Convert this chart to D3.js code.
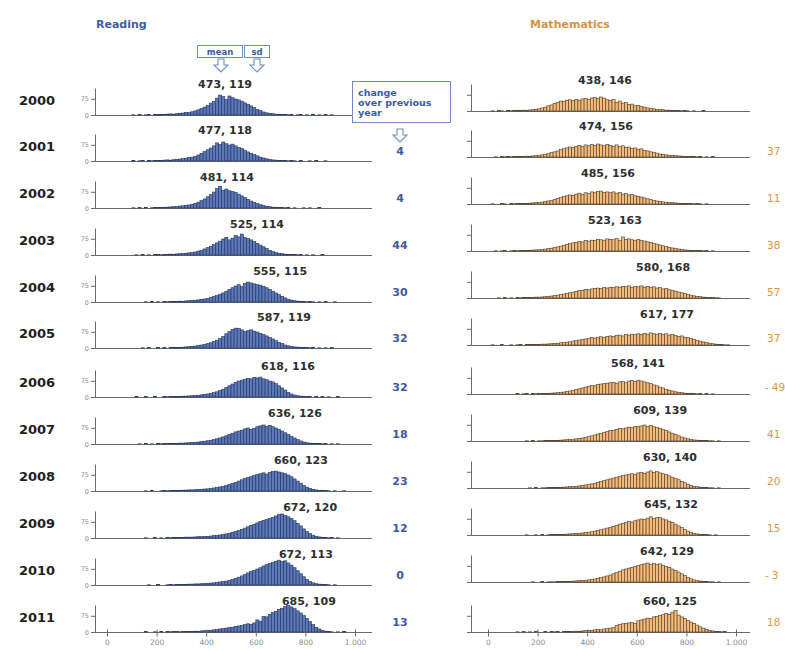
<!DOCTYPE html>
<html><head><meta charset="utf-8">
<script src="https://cdn.jsdelivr.net/npm/d3@7"></script>
<style>
html,body{margin:0;padding:0;background:#fff;}
svg{display:block;font-family:"DejaVu Sans",Verdana,sans-serif;}
</style></head><body>
<svg id="chart" width="785" height="651"></svg>
<script>
// ---- data -------------------------------------------------------------
const years = [2000, 2001, 2002, 2003, 2004, 2005, 2006, 2007, 2008, 2009, 2010, 2011];

const readMean = [473, 477, 481, 525, 555, 587, 618, 636, 660, 672, 672, 685];
const readSd   = [119, 118, 114, 114, 115, 119, 116, 126, 123, 120, 113, 109];
const mathMean = [438, 474, 485, 523, 580, 617, 568, 609, 630, 645, 642, 660];
const mathSd   = [146, 156, 156, 163, 168, 177, 141, 139, 140, 132, 129, 125];

const readChange = [null, 4, 4, 44, 30, 32, 32, 18, 23, 12, 0, 13];
const mathChange = [null, 37, 11, 38, 57, 37, -49, 41, 20, 15, -3, 18];

// score bins of 12.5 points, 0 .. 1000 (counts per bin)
const binWidth = 12.5;

const r2000 = [0,0,0,0,0,0,0,0, 1,0,2,0,1,2,0,2, 2,3,2,4,5,4,6,8, 9,12,11,15,19,24,30,37, 44,55,62,78,92,85,72,88, 80,74,70,64,56,50,42,34, 26,20,14,10,8,6,4,3, 2,2,1,2,0,1,2,0, 1,0,2,0,1,0,2,0, 1,0,0,0,0,0,0,0];
const r2001 = [0,0,0,0,0,0,0,0, 2,0,1,2,0,2,1,2, 3,2,4,5,4,6,8,9, 11,13,16,18,22,28,36,44, 52,60,70,84,76,88,80,74, 78,70,62,58,50,42,36,30, 24,18,14,10,7,5,4,3, 2,2,1,2,1,0,2,0, 0,1,0,2,0,0,1,0, 0,0,0,0,0,0,0,0];
const r2002 = [0,0,0,0,0,0,0,0, 1,0,2,0,2,0,1,2, 2,3,3,4,5,6,7,9, 10,12,14,17,22,27,34,42, 52,62,74,90,100,82,88,80, 76,72,64,56,48,40,32,26, 20,15,11,8,6,4,3,2, 2,1,2,0,1,0,0,1, 0,1,0,0,2,0,0,0, 0,0,0,0,0,0,0,0];
const r2003 = [0,0,0,0,0,0,0,0, 0,1,0,2,0,1,0,2, 2,1,3,2,4,3,5,6, 7,8,10,12,14,18,22,28, 34,40,48,56,64,74,82,70, 78,90,84,97,80,76,70,62, 54,46,38,30,22,16,11,8, 6,4,3,2,2,1,2,0, 1,0,1,0,0,2,0,0, 0,0,0,0,0,0,0,0];
const r2004 = [0,0,0,0,0,0,0,0, 0,0, 0,0,1,0,2,0,1,0, 2,1,2,3,2,4,3,5, 6,7,8,10,12,14,17,21, 26,30,36,42,50,58,66,74, 80,72,86,92,88,84,80,78, 72,66,58,50,42,34,26,19, 13,9,6,4,3,2,1,2, 1,0,1,0,2,0,0,1, 0,0,0,0,0,0];
const r2005 = [0,0,0,0,0,0,0,0, 0,0,0,1,0,2,0,0, 2,0,2,0,2,2,3,3, 4,5,6,8,9,11,14,17, 20,24,30,36,44,54,66,76, 86,92,90,84,76,80,84,78, 74,68,62,56,48,42,34,26, 20,14,10,7,5,4,3,2, 2,1,2,0,1,0,1,0, 2,0,0,0,0,0,0,0];
const r2006 = [0,0,0,0,0,0,0,0, 0,2,0,0,2,0,0,2, 0,0,2,1,2,2,3,3, 4,4,5,6,7,8,10,12, 14,17,20,24,30,36,44,52, 60,68,74,78,82,86,84,90, 88,92,84,80,74,70,62,52, 42,32,22,14,9,6,4,3, 2,2,0,2,0,2,0,1, 0,0,2,0,0,0,0,0];
const r2007 = [0,0,0,0,0,0,0,0, 0,0,1,0,2,0,1,0,2, 1,2,2,3,2,3,4,4, 5,6,7,8,9,11,13,15, 17,20,24,28,33,38,44,50, 56,60,64,70,74,68,72,80, 84,88,82,86,80,74,68,60, 52,44,36,28,20,14,9,6, 4,3,2,2,1,2,0,1, 0,1,0,0,0,0,0];
const r2008 = [0,0,0,0,0,0,0,0, 0,0, 0,0,1,0,2,0,0,1, 2,1,2,2,3,3,4,4, 5,5,6,7,8,9,10,12, 14,16,19,22,26,30,35,40, 46,52,58,62,66,72,76,80, 84,78,86,90,92,88,84,80, 74,66,56,46,36,26,18,12, 8,5,3,2,2,1,0,1, 0,0,1,0,0,0];
const r2009 = [0,0,0,0,0,0,0,0, 0,0,0, 0,1,0,0,2,0,1,0, 2,1,2,2,3,3,4,4, 4,5,6,6,7,8,9,11, 12,14,16,19,22,26,30,35, 40,46,52,58,64,70,76,82, 86,90,96,102,108,111,104,98, 90,80,68,56,42,30,20,13, 8,5,3,2,1,2,0,1, 0,0,0,0,0];
const r2010 = [0,0,0,0,0,0,0,0, 0,0,0, 0,0,1,0,0,2,0,0, 1,2,1,2,2,3,3,4, 4,5,5,6,7,8,9,10, 12,14,16,18,22,26,31,36, 42,48,56,62,68,74,80,88, 94,100,104,110,115,108,112,102, 92,80,66,52,38,26,16,10, 6,4,2,2,1,0,1,0, 0,0,0,0,0];
const r2011 = [0,0,0,0,0,0,0,0, 0,0, 0,0,2,0,0,1,0,2, 0,2,1,2,2,1,2,3, 2,3,4,3,5,6,7,8, 10,12,14,16,18,20,22,26, 28,30,34,38,36,42,56,50, 72,70,82,90,96,104,110,118, 124,116,108,98,88,76,62,48, 34,22,14,8,4,2,1,0, 1,0,2,0,0,0];

const m2000 = [0,1,0,2,1,0,2,1, 2,3,2,4,3,5,6,8, 10,14,18,24,28,34,40,46, 44,50,52,48,54,50,56,58, 54,60,62,58,65,60,52,48, 54,40,46,36,40,30,32,24, 26,20,18,14,12,10,8,6, 6,4,4,3,2,2,1,2, 1,0,1,0,0,2,0,0, 0,0,0,0,0,0,0,0];
const m2001 = [0,0,1,0,2,1,2,1, 2,2,3,2,4,3,5,6, 8,10,12,16,20,24,28,34, 38,42,46,44,50,54,48,56, 52,58,54,60,56,52,58,54, 50,56,48,52,44,46,40,42, 36,38,30,28,24,20,18,14, 12,10,8,7,6,5,4,3, 2,3,2,1,2,0,1,0, 2,0,0,0,0,0,0,0];
const m2002 = [0,1,0,0,2,1,0,2, 1,2,2,3,3,4,5,6, 7,9,11,14,17,21,25,30, 34,38,42,40,46,50,44,52, 48,56,52,58,60,54,56,52, 56,50,54,46,48,42,44,38, 36,32,28,24,20,17,14,12, 10,8,7,6,5,4,3,3, 2,2,1,2,1,0,1,0, 0,0,0,0,0,0,0,0];
const m2003 = [0,0,1,0,1,2,0,1, 2,1,2,2,3,3,4,5, 6,7,9,11,13,16,19,22, 26,30,34,38,40,44,42,48, 46,50,48,54,52,50,56,54, 52,58,50,65,54,56,52,50, 54,48,46,42,40,36,32,28, 24,20,17,14,11,9,7,5, 4,3,3,2,2,1,2,0, 1,0,0,0,0,0,0,0];
const m2004 = [0,0,0,1,0,2,0,1, 0,2,1,2,2,3,3,4, 4,5,6,8,9,11,13,16, 18,21,24,27,30,34,36,40, 38,42,44,46,44,48,46,50, 48,52,50,54,52,56,50,54, 52,56,50,54,48,52,46,48, 42,44,38,36,32,28,24,20, 16,13,10,8,6,4,3,2, 2,1,1,0,0,0,0,0];
const m2005 = [0,1,0,0,2,0,0,1, 0,1,2,0,2,2,3,2, 3,4,4,5,6,7,8,10, 11,13,15,18,20,23,26,28, 30,34,32,36,38,36,40,42, 40,44,46,42,48,46,50,48, 52,48,54,50,56,52,50,54, 48,52,46,50,44,40,42,36, 34,30,26,22,18,14,11,8, 6,4,3,2,1,1,0,0];
const m2006 = [0,0,0,0,0,0,0,0, 0,2,0,1,2,0,2,1, 2,2,3,3,4,5,6,7, 9,11,14,17,20,24,28,32, 36,40,38,44,46,48,50,52, 54,50,56,58,52,60,62,58, 64,60,56,52,48,42,38,32, 28,22,18,14,10,8,6,4, 3,3,2,1,2,0,2,0, 1,0,0,0,0,0,0,0];
const m2007 = [0,0,0,0,0,0,0,0, 0,0,0, 0,1,0,2,0,1,1,2, 2,2,3,3,4,5,6,7, 8,10,12,14,17,20,24,28, 32,36,40,44,48,50,54,58, 56,60,64,62,68,66,70,74, 68,72,66,62,58,54,48,42, 36,30,24,18,14,10,7,5, 4,3,2,2,1,1,0,1, 0,0,0,0,0];
const m2008 = [0,0,0,0,0,0,0,0, 0,0,0, 0,0,1,0,2,0,1,1, 2,2,2,3,3,4,5,6, 7,8,10,12,14,16,19,22, 26,30,34,38,42,46,50,54, 58,60,62,66,64,70,72,68, 74,79,72,76,70,66,62,56, 50,44,38,30,24,18,12,8, 6,4,3,2,1,1,0,1, 0,0,0,0,0];
const m2009 = [0,0,0,0,0,0,0,0, 0,0,0, 0,1,0,0,1,0,2,0, 1,2,2,2,3,3,4,5, 6,7,8,9,11,13,15,18, 21,24,28,32,36,40,45,50, 54,58,62,60,66,70,74,72, 78,84,76,80,82,74,70,64, 58,50,42,34,26,18,12,8, 5,3,2,2,1,0,1,0, 0,0,0,0,0];
const m2010 = [0,0,0,0,0,0,0,0, 0,0,0,0, 0,0,1,0,0,2,0,1, 1,1,2,2,2,3,3,4, 5,6,7,8,10,12,14,17, 20,24,28,32,38,44,50,56, 60,64,68,72,76,80,84,88, 82,86,80,84,78,72,68,60, 54,46,38,30,22,15,10,6, 4,3,2,1,1,0,1,0, 0,0,0,0];
const m2011 = [0,0,0, 0,0,0,0,0,0,1,0, 2,0,1,0,2,0,0,2, 0,2,1,2,0,2,2,3, 3,4,3,5,6,7,8,10, 12,10,14,16,18,20,30,34, 38,40,42,44,40,52,56,60, 64,62,70,72,76,80,86,82, 92,100,78,70,62,54,46,40, 32,24,18,12,8,5,3,2, 1,2,0,0,0];

const readHists = [r2000, r2001, r2002, r2003, r2004, r2005, r2006, r2007, r2008, r2009, r2010, r2011];
const mathHists = [m2000, m2001, m2002, m2003, m2004, m2005, m2006, m2007, m2008, m2009, m2010, m2011];

const xTicks = [0, 200, 400, 600, 800, 1000];
const yTicks = [0, 75];

// label anchors (score units, placed through each column's x scale)
const readLabelAt = [476, 476, 484, 605, 698, 714, 730, 758, 782, 819, 802, 814];
const mathLabelAt = [472, 476, 484, 512, 706, 722, 605, 694, 734, 738, 722, 734];

// ---- layout -----------------------------------------------------------
const rowBase  = [115, 161, 208, 255, 302, 348, 397, 444, 491, 538, 585, 632];
const mathBase = [111, 157, 204, 251, 298, 345, 394, 441, 488, 535, 582, 632];
const panelH = 27;

const cols = [
  { key: "read", title: "Reading", titleX: 96, axisX: 95, x0: 107, x1: 355, lineEnd: 372,
    fill: "#5b79b8", stroke: "#22335f", hists: readHists, mean: readMean, sd: readSd,
    labelAt: readLabelAt, base: rowBase, tickLabels: true, titleColor: "#3d5da6" },
  { key: "math", title: "Mathematics", titleX: 530, axisX: 471, x0: 488, x1: 736, lineEnd: 750,
    fill: "#f6bb78", stroke: "#4d3a28", hists: mathHists, mean: mathMean, sd: mathSd,
    labelAt: mathLabelAt, base: mathBase, tickLabels: false, titleColor: "#d99140" }
];

const svg = d3.select("#chart");
svg.append("rect").attr("width", 785).attr("height", 651).attr("fill", "#ffffff");

const y = d3.scaleLinear().domain([0, 125]).range([0, -panelH]);

cols.forEach(c => {
  const x = d3.scaleLinear().domain([0, 1000]).range([c.x0, c.x1]);

  svg.append("text").attr("x", c.titleX).attr("y", 28)
    .attr("font-size", 11).attr("font-weight", "bold").attr("fill", c.titleColor)
    .text(c.title);

  years.forEach((yr, i) => {
    const g = svg.append("g").attr("transform", `translate(0,${c.base[i]})`);

    // baseline
    g.append("line").attr("x1", c.axisX - 3).attr("x2", c.lineEnd)
      .attr("y1", 0.5).attr("y2", 0.5).attr("stroke", "#6a6a6a").attr("stroke-width", 1);

    // histogram bars
    const bins = c.hists[i].map((v, k) => ({ x0: k * binWidth, v })).filter(d => d.v > 0);
    g.selectAll("rect.bar").data(bins).join("rect")
      .attr("class", "bar")
      .attr("x", d => x(d.x0))
      .attr("width", x(binWidth) - x(0))
      .attr("y", d => y(d.v))
      .attr("height", d => y(0) - y(d.v))
      .attr("fill", c.fill).attr("stroke", c.stroke).attr("stroke-width", 0.6);

    // vertical axis
    const ax = g.append("g").attr("transform", `translate(${c.axisX},0)`)
      .call(d3.axisLeft(y).tickValues(yTicks).tickSize(4).tickSizeOuter(0).tickPadding(2)
        .tickFormat(c.tickLabels ? d3.format("d") : () => ""));
    ax.select(".domain").attr("stroke", "#6a6a6a");
    ax.selectAll(".tick line").attr("stroke", "#6a6a6a");
    ax.selectAll(".tick text").attr("font-size", 6.5).attr("fill", "#8a8a8a")
      .attr("font-family", "DejaVu Sans, sans-serif");

    // mean, sd label
    g.append("text").attr("x", x(c.labelAt[i])).attr("y", -27)
      .attr("text-anchor", "middle").attr("font-size", 11).attr("font-weight", "bold")
      .attr("fill", "#2e2e2e")
      .text(`${c.mean[i]},  ${c.sd[i]}`);

    // bottom score axis on the last row
    if (i === years.length - 1) {
      const bx = g.append("g").attr("transform", "translate(0,0.5)")
        .call(d3.axisBottom(x).tickValues(xTicks).tickSize(4).tickSizeOuter(0).tickPadding(3)
          .tickFormat(d => d === 1000 ? "1.000" : d));
      bx.select(".domain").remove();
      bx.selectAll(".tick line").attr("y1", -3).attr("stroke", "#6a6a6a");
      bx.selectAll(".tick text").attr("font-size", 7.5).attr("fill", "#8a8a8a")
        .attr("font-family", "DejaVu Sans, sans-serif");
    }
  });
});

// year labels
years.forEach((yr, i) => {
  svg.append("text").attr("x", 37).attr("y", rowBase[i] - 10)
    .attr("text-anchor", "middle").attr("font-size", 13).attr("font-weight", "bold")
    .attr("fill", "#1e1e1e").text(yr);
});

// change over previous year
years.forEach((yr, i) => {
  if (readChange[i] !== null) {
    svg.append("text").attr("x", 400).attr("y", rowBase[i] - 6)
      .attr("text-anchor", "middle").attr("font-size", 11).attr("font-weight", "bold")
      .attr("fill", "#3b5aa6").text(readChange[i]);
  }
  if (mathChange[i] !== null) {
    const v = mathChange[i];
    const t = svg.append("text").attr("x", 765).attr("y", rowBase[i] - 6)
      .attr("font-size", 10.5).attr("fill", "#e0953a");
    if (v < 0) {
      t.append("tspan").text("-");
      t.append("tspan").attr("dx", 3).text(Math.abs(v));
    } else {
      t.append("tspan").attr("dx", 2).text(v);
    }
  }
});

// annotation boxes and arrows
const boxStroke = "#6f8cc6";
const noteColor = "#3b5aa6";
function downArrow(cx, top) {
  return `M${cx-3},${top} L${cx+3},${top} L${cx+3},${top+6} L${cx+7},${top+6} L${cx},${top+13} L${cx-7},${top+6} L${cx-3},${top+6} Z`;
}
const notes = svg.append("g");
notes.append("rect").attr("x", 197.5).attr("y", 45.5).attr("width", 45).attr("height", 12)
  .attr("fill", "#fff").attr("stroke", boxStroke);
notes.append("text").attr("x", 220).attr("y", 54.5).attr("text-anchor", "middle")
  .attr("font-size", 8.5).attr("font-weight", "bold").attr("fill", noteColor).text("mean");
notes.append("rect").attr("x", 244.5).attr("y", 45.5).attr("width", 25).attr("height", 12)
  .attr("fill", "#fff").attr("stroke", boxStroke);
notes.append("text").attr("x", 257).attr("y", 54.5).attr("text-anchor", "middle")
  .attr("font-size", 8.5).attr("font-weight", "bold").attr("fill", noteColor).text("sd");
notes.append("path").attr("d", downArrow(221, 59)).attr("fill", "#fff").attr("stroke", boxStroke).attr("stroke-width", 1.1);
notes.append("path").attr("d", downArrow(257, 59)).attr("fill", "#fff").attr("stroke", boxStroke).attr("stroke-width", 1.1);

notes.append("rect").attr("x", 352.5).attr("y", 81.5).attr("width", 98).attr("height", 41)
  .attr("fill", "#fff").attr("stroke", boxStroke);
["change", "over previous", "year"].forEach((t, k) => {
  notes.append("text").attr("x", 358).attr("y", 96 + k * 10)
    .attr("font-size", 9.5).attr("font-weight", "bold").attr("fill", noteColor).text(t);
});
notes.append("path").attr("d", downArrow(400, 129)).attr("fill", "#fff").attr("stroke", boxStroke).attr("stroke-width", 1.1);
</script>
</body></html>
